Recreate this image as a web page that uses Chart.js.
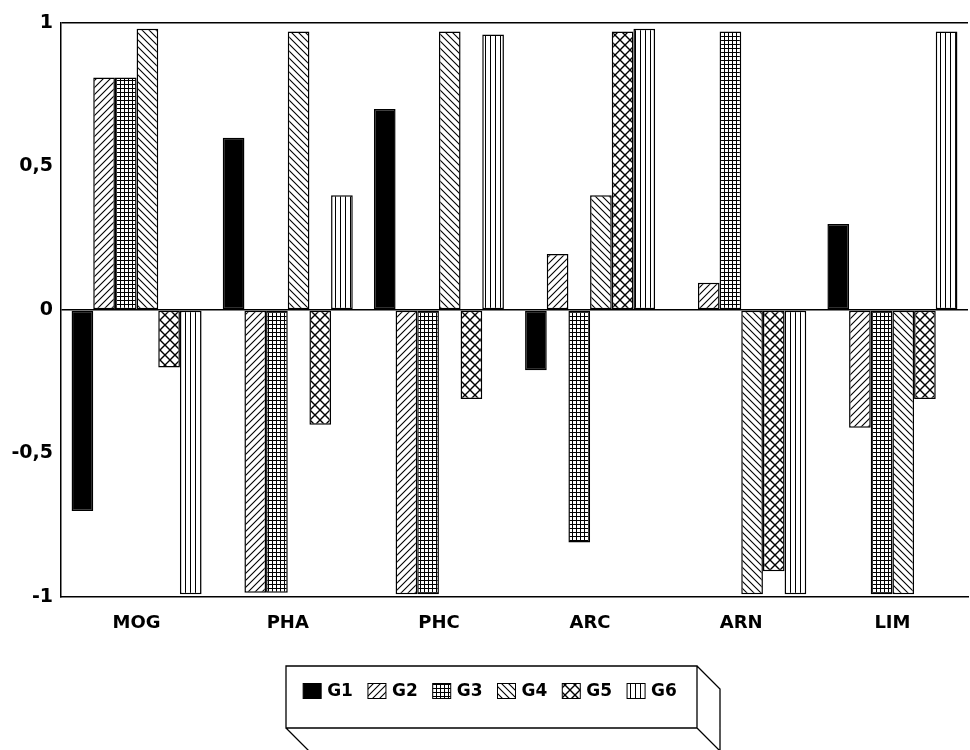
<!DOCTYPE html>
<html>
<head>
<meta charset="utf-8">
<script src="https://cdn.jsdelivr.net/npm/chart.js@4.4.0/dist/chart.umd.min.js"></script>
<style>
	body{margin:0;background:#fff;}
</style>
</head>
<body>
<canvas id="grafico" width="970" height="750"></canvas>
<script>

// Datos del grafico
const categorias = ['MOG', 'PHA', 'PHC', 'ARC', 'ARN', 'LIM'];
const series = ['G1', 'G2', 'G3', 'G4', 'G5', 'G6'];
const g1 = [-0.70, 0.60, 0.70, -0.21, 0, 0.30];
const g2 = [0.81, -0.985, -0.99, 0.195, 0.095, -0.41];
const g3 = [0.81, -0.985, -0.99, -0.81, 0.97, -0.99];
const g4 = [0.98, 0.97, 0.97, 0.40, -0.99, -0.99];
const g5 = [-0.20, -0.40, -0.31, 0.97, -0.91, -0.31];
const g6 = [-0.99, 0.40, 0.96, 0.98, -0.99, 0.97];
const ticksY = [-1, -0.5, 0, 0.5, 1];

const fuente = '"DejaVu Sans", Verdana, sans-serif';

// Crear tramas (hatch) para las barras
const crearPatron = function(tipo){
	let s = 8;
	if(tipo == 'grid') s = 4;
	if(tipo == 'vert') s = 5;
	if(tipo == 'diamante') s = 10;
	if(tipo == 'slash' || tipo == 'backslash') s = 7;

	let c = document.createElement('canvas');
	c.width = s;
	c.height = s;
	let ctx = c.getContext('2d');
	ctx.fillStyle = '#fff';
	ctx.fillRect(0, 0, s, s);
	ctx.strokeStyle = '#000';
	ctx.fillStyle = '#000';

	if(tipo == 'solido'){
		ctx.fillRect(0, 0, s, s);
	}
	if(tipo == 'slash'){
		ctx.lineWidth = 1.1;
		ctx.beginPath();
		ctx.moveTo(0, s); ctx.lineTo(s, 0);
		ctx.moveTo(-1, 1); ctx.lineTo(1, -1);
		ctx.moveTo(s - 1, s + 1); ctx.lineTo(s + 1, s - 1);
		ctx.stroke();
	}
	if(tipo == 'backslash'){
		ctx.lineWidth = 1.1;
		ctx.beginPath();
		ctx.moveTo(0, 0); ctx.lineTo(s, s);
		ctx.moveTo(s - 1, -1); ctx.lineTo(s + 1, 1);
		ctx.moveTo(-1, s - 1); ctx.lineTo(1, s + 1);
		ctx.stroke();
	}
	if(tipo == 'grid'){
		ctx.fillRect(0, 0, s, 1);
		ctx.fillRect(0, 0, 1, s);
	}
	if(tipo == 'diamante'){
		ctx.lineWidth = 1.4;
		ctx.beginPath();
		ctx.moveTo(0, 0); ctx.lineTo(s, s);
		ctx.moveTo(0, s); ctx.lineTo(s, 0);
		ctx.stroke();
	}
	if(tipo == 'vert'){
		ctx.fillRect(0, 0, 1, s);
	}
	return document.getElementById('grafico').getContext('2d').createPattern(c, 'repeat');
}

const patrones = [
	crearPatron('solido'),
	crearPatron('slash'),
	crearPatron('grid'),
	crearPatron('backslash'),
	crearPatron('diamante'),
	crearPatron('vert')
];

const valores = [g1, g2, g3, g4, g5, g6];

const datasets = series.map(function(nombre, i){
	return {
		label: nombre,
		data: valores[i],
		backgroundColor: patrones[i],
		borderColor: '#000',
		borderWidth: 1.5,
		borderSkipped: false,
		categoryPercentage: 0.86,
		barPercentage: 1.0
	};
});

// Leyenda con caja en 3D
const leyenda3D = {
	id: 'leyenda3D',
	afterDraw: function(chart){
		let ctx = chart.ctx;
		let x0 = 286, y0 = 666, x1 = 697, y1 = 728, d = 23;

		ctx.save();
		ctx.strokeStyle = '#000';
		ctx.lineWidth = 1.3;
		ctx.beginPath();
		ctx.rect(x0, y0, x1 - x0, y1 - y0);
		ctx.moveTo(x1, y0); ctx.lineTo(x1 + d, y0 + d); ctx.lineTo(x1 + d, 760);
		ctx.moveTo(x0, y1); ctx.lineTo(x0 + d, y1 + d);
		ctx.moveTo(x1, y1); ctx.lineTo(x1 + d, y1 + d);
		ctx.stroke();

		ctx.font = 'bold 17px ' + fuente;
		ctx.textBaseline = 'middle';
		let ancho = 18, alto = 15, sep = 6, hueco = 15;
		let total = 0;
		series.forEach(function(nombre){
			total += ancho + sep + ctx.measureText(nombre).width + hueco;
		});
		total -= hueco;
		let x = 490 - total / 2;
		let yc = 691;
		series.forEach(function(nombre, i){
			ctx.fillStyle = patrones[i];
			ctx.fillRect(x, yc - alto / 2, ancho, alto);
			ctx.lineWidth = 1;
			ctx.strokeRect(x, yc - alto / 2, ancho, alto);
			ctx.fillStyle = '#000';
			ctx.fillText(nombre, x + ancho + sep, yc + 1);
			x += ancho + sep + ctx.measureText(nombre).width + hueco;
		});
		ctx.restore();
	}
};

new Chart(document.getElementById('grafico'), {
	type: 'bar',
	data: {
		labels: categorias,
		datasets: datasets
	},
	options: {
		responsive: false,
		animation: false,
		devicePixelRatio: 1,
		layout: {
			padding: {top: 23, right: 2, left: 0, bottom: 115}
		},
		plugins: {
			legend: {display: false},
			tooltip: {enabled: false}
		},
		scales: {
			x: {
				grid: {display: false},
				border: {display: true, color: '#000', width: 1.5},
				ticks: {
					color: '#000',
					padding: 8,
					font: {family: fuente, size: 18, weight: 'bold'}
				},
				afterFit: function(scale){ scale.height = 38; }
			},
			y: {
				min: -1,
				max: 1,
				afterBuildTicks: function(scale){
					scale.ticks = ticksY.map(function(v){ return {value: v}; });
				},
				afterFit: function(scale){ scale.width = 61; },
				border: {display: true, color: '#000', width: 1.5},
				grid: {
					drawTicks: false,
					lineWidth: 1.5,
					color: function(c){
						let v = c.tick ? c.tick.value : null;
						return (v === 0 || v === 1) ? '#000' : 'rgba(0,0,0,0)';
					}
				},
				ticks: {
					color: '#000',
					padding: 8,
					font: {family: fuente, size: 19, weight: 'bold'},
					callback: function(v){ return String(v).replace('.', ','); }
				}
			}
		}
	},
	plugins: [leyenda3D]
});

</script>
</body>
</html>
